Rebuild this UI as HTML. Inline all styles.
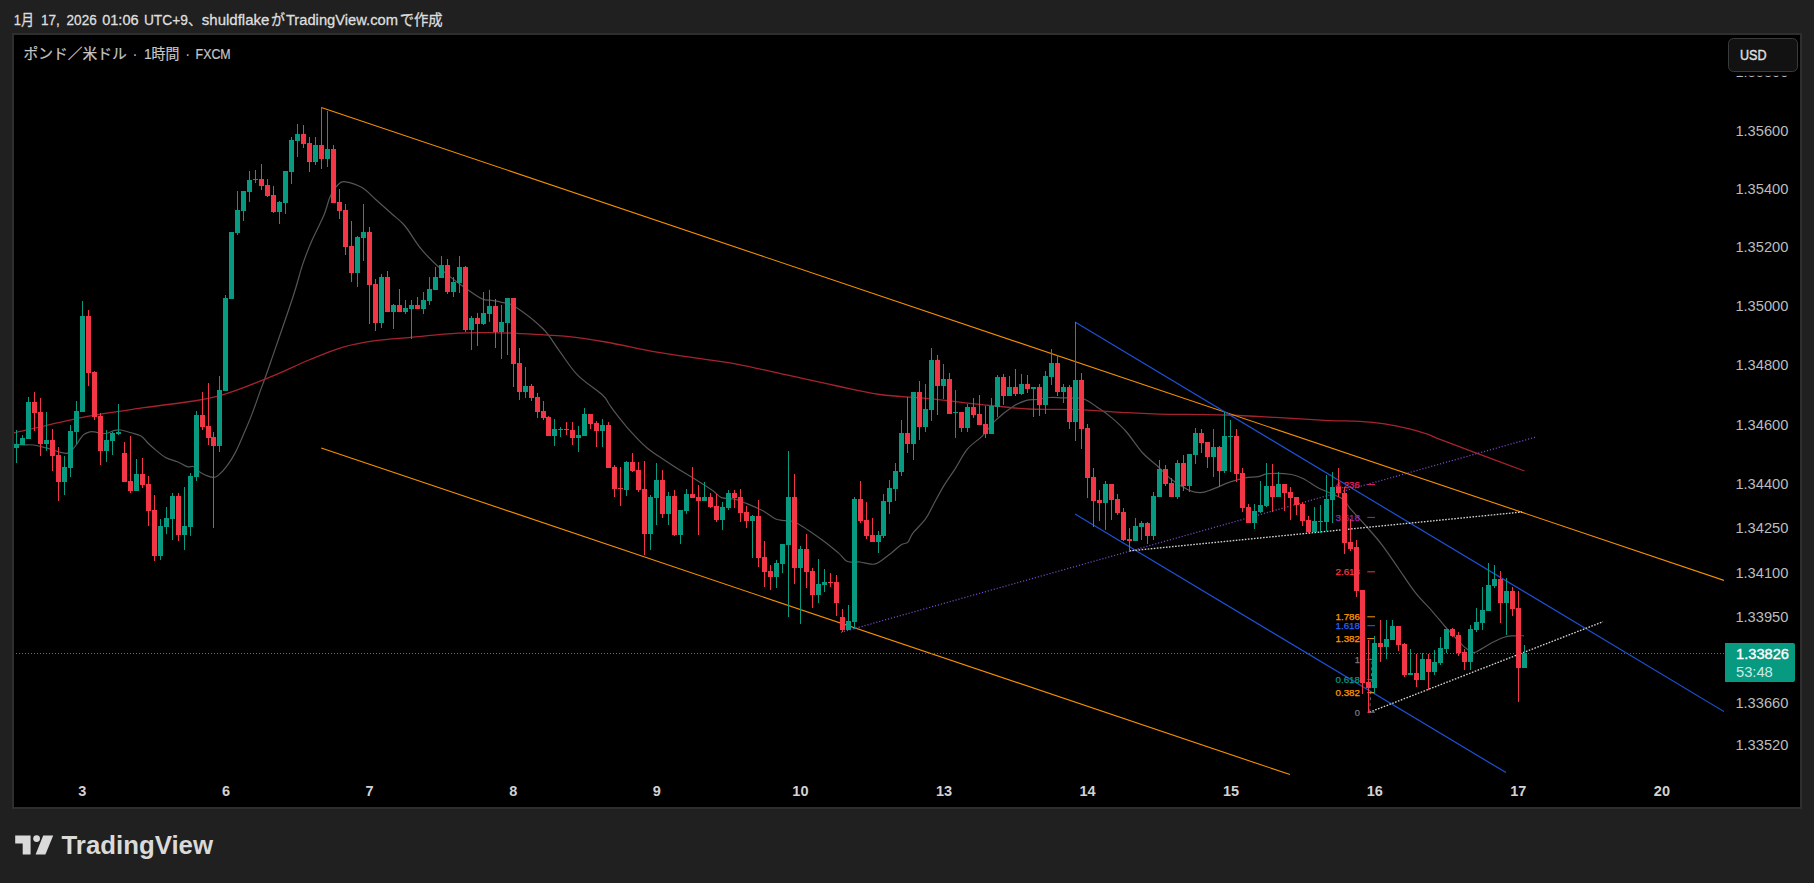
<!DOCTYPE html>
<html lang="ja"><head><meta charset="utf-8"><title>TradingView chart</title>
<style>
html,body{margin:0;padding:0;background:#202020;}
body{width:1814px;height:883px;overflow:hidden;position:relative;font-family:"Liberation Sans","Noto Sans CJK JP",sans-serif;}
#box{position:absolute;left:12px;top:33px;width:1786px;height:772px;border:2px solid #2e2e2e;background:#000;}
svg{position:absolute;left:0;top:0;}
svg text{font-family:"Liberation Sans","Noto Sans CJK JP",sans-serif;}
</style></head><body>
<div id="box"></div>
<svg width="1814" height="883" viewBox="0 0 1814 883">
<defs><clipPath id="topclip"><rect x="1730" y="75.8" width="70" height="1.2"/></clipPath></defs>
<defs><clipPath id="plot"><rect x="14" y="35" width="1710" height="772"/></clipPath></defs>
<g clip-path="url(#plot)">
<path fill="none" stroke="#565656" stroke-width="1.2" d="M14.0 444.3C15.6 444.4 20.4 444.7 23.6 444.8C26.9 444.9 29.9 444.5 33.5 445.0C37.1 445.5 41.4 446.7 45.0 447.6C48.6 448.5 52.0 449.7 55.0 450.6C58.0 451.5 61.1 452.5 63.3 452.9C65.5 453.3 66.3 453.9 68.2 452.9C70.1 451.9 72.3 449.8 74.8 446.8C77.3 443.9 80.6 437.7 83.1 435.2C85.6 432.7 87.8 432.4 89.7 431.9C91.6 431.3 92.8 431.6 94.7 431.9C96.6 432.2 99.1 433.4 101.3 433.6C103.5 433.8 105.7 433.6 107.9 433.0C110.1 432.4 112.3 430.8 114.5 430.3C116.7 429.8 118.3 429.6 121.1 430.0C123.8 430.4 127.7 431.8 131.0 432.8C134.3 433.8 138.2 434.4 141.0 436.0C143.8 437.6 145.1 440.3 147.6 442.7C150.1 445.1 152.9 447.6 155.9 450.1C158.9 452.6 162.2 455.7 165.8 457.6C169.4 459.5 173.8 460.2 177.4 461.7C181.0 463.2 184.6 465.9 187.3 466.7C190.1 467.5 191.7 465.7 193.9 466.7C196.1 467.7 197.3 470.7 200.5 472.5C203.7 474.3 209.9 477.0 212.9 477.4C215.9 477.8 216.3 476.8 218.7 474.9C221.0 473.0 224.2 469.5 227.0 465.8C229.8 462.1 232.6 457.8 235.3 452.6C238.1 447.4 240.8 440.7 243.5 434.4C246.2 428.1 249.0 421.8 251.8 414.6C254.6 407.4 257.9 397.5 260.1 391.4C262.3 385.3 263.2 383.3 265.0 378.2C266.8 373.1 266.4 374.4 271.0 361.0C275.6 347.6 287.4 313.8 292.7 297.7C298.0 281.6 299.4 274.1 302.6 264.6C305.8 255.2 308.1 249.3 311.7 241.0C315.3 232.7 320.9 222.3 324.0 215.0C327.1 207.7 327.7 202.0 330.0 197.0C332.3 192.0 335.4 187.3 338.0 184.8C340.6 182.3 341.6 181.3 345.6 181.8C349.6 182.3 357.0 184.7 362.0 187.6C367.0 190.5 370.4 194.8 375.4 199.2C380.4 203.6 387.1 209.5 392.0 214.0C396.9 218.5 400.1 220.1 405.0 226.0C409.9 231.9 415.6 242.4 421.7 249.7C427.8 257.0 434.9 263.7 441.5 269.6C448.1 275.5 454.8 280.5 461.4 285.3C468.0 290.1 476.4 296.0 481.2 298.5C486.0 301.0 486.6 299.6 490.0 300.2C493.4 300.8 497.5 301.2 501.6 302.3C505.7 303.4 507.9 302.1 514.8 306.5C521.7 310.9 535.5 321.4 543.0 328.8C550.5 336.2 553.7 343.4 559.5 351.1C565.3 358.8 570.4 367.8 577.6 375.1C584.8 382.4 597.3 390.2 602.5 395.0C607.7 399.8 606.8 401.0 609.0 404.0C611.2 407.0 612.1 408.6 615.7 413.2C619.3 417.8 625.4 425.6 630.6 431.4C635.8 437.2 641.6 443.3 647.1 448.0C652.6 452.7 658.1 455.8 663.6 459.5C669.1 463.2 674.7 466.9 680.2 470.3C685.7 473.8 691.2 476.8 696.7 480.2C702.2 483.6 709.2 488.1 713.3 491.0C717.4 493.9 717.9 496.2 721.5 497.6C725.1 499.0 730.6 498.2 734.7 499.2C738.8 500.2 741.6 501.5 746.3 503.4C751.0 505.3 758.0 508.2 762.9 510.8C767.8 513.4 771.8 517.4 775.6 519.0C779.4 520.6 781.9 520.0 785.5 520.7C789.1 521.4 791.0 520.0 797.1 523.2C803.2 526.4 815.0 534.8 821.9 539.7C828.8 544.7 834.1 549.3 838.4 552.9C842.7 556.5 843.9 560.0 847.5 561.5C851.1 563.0 856.0 561.5 860.0 562.0C864.0 562.5 868.5 564.1 871.5 564.2C874.5 564.3 874.8 564.7 878.1 562.8C881.4 560.9 887.5 555.9 891.4 552.9C895.3 549.9 898.5 546.5 901.3 544.7C904.0 542.9 906.0 544.1 907.9 542.2C909.8 540.3 910.0 536.9 912.9 533.1C915.8 529.3 921.9 524.0 925.4 519.2C928.9 514.4 930.6 509.8 933.6 504.3C936.6 498.8 940.0 492.0 943.6 486.1C947.2 480.2 951.1 475.0 955.1 468.8C959.1 462.6 962.9 454.4 967.5 448.9C972.1 443.4 977.8 440.6 982.5 435.8C987.2 431.0 990.8 424.9 995.8 420.1C1000.8 415.3 1007.2 410.2 1012.3 406.9C1017.4 403.6 1022.3 401.5 1026.4 400.3C1030.5 399.1 1033.1 400.0 1037.1 399.5C1041.1 399.0 1046.2 397.8 1050.3 397.5C1054.4 397.2 1057.8 397.7 1061.9 397.8C1066.0 397.9 1071.2 397.8 1075.1 398.1C1079.0 398.4 1081.0 397.7 1085.1 399.5C1089.2 401.3 1095.5 406.0 1099.9 409.0C1104.3 412.0 1107.1 413.9 1111.5 417.6C1115.9 421.4 1120.9 425.6 1126.1 431.5C1131.3 437.4 1137.5 447.2 1142.7 453.0C1148.0 458.8 1152.6 461.6 1157.6 466.2C1162.6 470.8 1167.3 476.3 1172.5 480.3C1177.7 484.3 1184.3 488.1 1189.0 490.2C1193.7 492.3 1196.8 492.8 1200.6 492.7C1204.4 492.6 1207.1 491.2 1212.1 489.4C1217.0 487.6 1224.8 483.8 1230.3 481.9C1235.8 480.0 1240.5 478.7 1245.2 477.8C1249.9 476.9 1254.5 477.3 1258.4 476.6C1262.3 475.9 1262.9 474.1 1268.4 473.7C1273.9 473.3 1285.4 473.5 1291.5 474.5C1297.6 475.5 1300.4 477.3 1304.8 479.5C1309.2 481.7 1313.6 485.4 1318.0 487.7C1322.4 490.0 1326.8 491.4 1331.2 493.5C1335.6 495.6 1341.3 497.7 1344.4 500.1C1347.5 502.5 1346.0 503.5 1349.6 507.8C1353.2 512.1 1360.5 519.7 1366.0 526.0C1371.5 532.3 1377.2 538.5 1382.7 545.8C1388.2 553.0 1393.7 561.6 1399.2 569.5C1404.7 577.4 1410.3 586.2 1415.8 593.2C1421.3 600.2 1427.3 605.7 1432.3 611.3C1437.2 616.9 1441.4 622.3 1445.5 627.0C1449.6 631.7 1453.8 636.0 1457.1 639.5C1460.4 643.0 1462.7 645.5 1465.4 647.7C1468.2 649.9 1470.8 652.6 1473.6 652.7C1476.3 652.9 1478.9 650.2 1481.9 648.6C1484.9 647.0 1488.0 644.7 1491.8 642.8C1495.6 640.9 1501.1 638.2 1505.0 637.0C1508.9 635.8 1511.8 636.0 1515.0 635.8C1518.2 635.6 1522.5 635.8 1524.0 635.8"/>
<path fill="none" stroke="#a5232f" stroke-width="1.3" d="M14.0 433.0C25.4 430.4 60.9 421.5 82.6 417.3C104.3 413.1 125.4 410.4 144.0 407.7C162.6 405.0 181.5 403.0 194.0 401.0C206.5 399.0 210.8 398.0 219.0 395.8C227.2 393.6 233.9 391.2 243.5 387.6C253.1 384.0 265.7 378.9 276.6 374.3C287.5 369.7 298.1 364.5 309.0 360.0C319.9 355.5 331.2 350.5 342.3 347.3C353.4 344.1 363.9 342.4 375.4 340.7C386.8 339.0 397.2 338.6 411.0 337.4C424.8 336.1 444.8 334.0 458.0 333.2C471.2 332.4 480.8 332.6 490.0 332.6C499.2 332.6 501.1 332.6 513.5 333.2C525.9 333.8 549.0 334.7 564.4 336.2C579.8 337.7 590.6 339.4 605.8 342.0C621.0 344.6 638.9 349.0 655.4 351.9C671.9 354.8 691.2 357.3 705.0 359.4C718.8 361.5 723.8 361.6 738.0 364.3C752.2 367.0 773.8 372.1 790.0 375.6C806.2 379.1 820.0 382.4 835.0 385.5C850.0 388.6 864.2 392.3 880.0 394.5C895.8 396.7 913.1 397.0 929.6 398.6C946.1 400.2 962.7 402.7 979.2 404.4C995.7 406.1 1012.3 408.1 1028.8 409.0C1045.3 409.9 1061.9 409.1 1078.4 409.7C1094.9 410.3 1114.5 412.0 1128.0 412.7C1141.5 413.4 1143.0 413.7 1159.2 414.1C1175.4 414.5 1206.1 414.4 1225.4 415.0C1244.7 415.6 1258.5 416.5 1275.0 417.4C1291.5 418.3 1310.4 419.6 1324.6 420.3C1338.8 421.0 1350.0 420.7 1360.0 421.3C1370.0 421.9 1376.5 422.6 1384.8 423.8C1393.1 425.1 1402.7 427.2 1409.6 428.8C1416.5 430.4 1420.5 431.8 1426.0 433.7C1431.5 435.6 1434.4 437.2 1442.7 440.4C1451.0 443.6 1462.2 447.7 1475.8 452.8C1489.4 457.9 1516.4 468.0 1524.5 471.0"/>
<line x1="321.3" y1="107.4" x2="1724.0" y2="580.4" stroke="#f59000" stroke-width="1.1" />
<line x1="321.2" y1="447.9" x2="1290.0" y2="774.6" stroke="#f59000" stroke-width="1.1" />
<line x1="1075.0" y1="322.0" x2="1724.0" y2="711.6" stroke="#1d50d4" stroke-width="1.2" />
<line x1="1075.0" y1="514.0" x2="1506.0" y2="772.6" stroke="#1d50d4" stroke-width="1.2" />
<line x1="841.0" y1="632.3" x2="1536.0" y2="437.0" stroke="#7a4acc" stroke-width="1.25" stroke-dasharray="1.15 1.9"/>
<line x1="1129.5" y1="550.9" x2="1522.0" y2="512.0" stroke="#d2d2d2" stroke-width="1.35" stroke-dasharray="1.6 1.45"/>
<line x1="1369.5" y1="712.2" x2="1603.0" y2="621.7" stroke="#d2d2d2" stroke-width="1.35" stroke-dasharray="1.6 1.45"/>
<line x1="1369.7" y1="712.2" x2="1372.2" y2="659.3" stroke="#6a6a6a" stroke-width="1" stroke-dasharray="3 3"/>
<text x="1360" y="487.9" text-anchor="end" font-size="9.3" fill="#e91e63" stroke="#e91e63" stroke-width="0.25" textLength="24.5" lengthAdjust="spacingAndGlyphs">4.236</text>
<line x1="1367.3" y1="484.6" x2="1375.0" y2="484.6" stroke="#e91e63" stroke-width="1" />
<text x="1360" y="520.7" text-anchor="end" font-size="9.3" fill="#9c27b0" stroke="#9c27b0" stroke-width="0.25" textLength="24.5" lengthAdjust="spacingAndGlyphs">3.618</text>
<line x1="1367.3" y1="517.4" x2="1375.0" y2="517.4" stroke="#9c27b0" stroke-width="1" />
<text x="1360" y="575.1" text-anchor="end" font-size="9.3" fill="#f23645" stroke="#f23645" stroke-width="0.25" textLength="24.5" lengthAdjust="spacingAndGlyphs">2.618</text>
<line x1="1367.3" y1="571.8" x2="1375.0" y2="571.8" stroke="#f23645" stroke-width="1" />
<text x="1360" y="620.1" text-anchor="end" font-size="9.3" fill="#ff9800" stroke="#ff9800" stroke-width="0.25" textLength="24.5" lengthAdjust="spacingAndGlyphs">1.786</text>
<line x1="1367.3" y1="616.8" x2="1375.0" y2="616.8" stroke="#ff9800" stroke-width="1" />
<text x="1360" y="629.0" text-anchor="end" font-size="9.3" fill="#2962ff" stroke="#2962ff" stroke-width="0.25" textLength="24.5" lengthAdjust="spacingAndGlyphs">1.618</text>
<line x1="1367.3" y1="625.7" x2="1375.0" y2="625.7" stroke="#2962ff" stroke-width="1" />
<text x="1360" y="641.9" text-anchor="end" font-size="9.3" fill="#ff9800" stroke="#ff9800" stroke-width="0.25" textLength="24.5" lengthAdjust="spacingAndGlyphs">1.382</text>
<line x1="1367.3" y1="638.6" x2="1375.0" y2="638.6" stroke="#ff9800" stroke-width="1" />
<text x="1360" y="662.6" text-anchor="end" font-size="9.3" fill="#787b86" stroke="#787b86" stroke-width="0.25" >1</text>
<line x1="1367.3" y1="659.3" x2="1375.0" y2="659.3" stroke="#787b86" stroke-width="1" />
<text x="1360" y="682.9" text-anchor="end" font-size="9.3" fill="#089981" stroke="#089981" stroke-width="0.25" textLength="24.5" lengthAdjust="spacingAndGlyphs">0.618</text>
<line x1="1367.3" y1="679.6" x2="1375.0" y2="679.6" stroke="#089981" stroke-width="1" />
<text x="1360" y="696.0" text-anchor="end" font-size="9.3" fill="#ff9800" stroke="#ff9800" stroke-width="0.25" textLength="24.5" lengthAdjust="spacingAndGlyphs">0.382</text>
<line x1="1367.3" y1="692.7" x2="1375.0" y2="692.7" stroke="#ff9800" stroke-width="1" />
<text x="1360" y="715.5" text-anchor="end" font-size="9.3" fill="#787b86" stroke="#787b86" stroke-width="0.25" >0</text>
<line x1="1367.3" y1="712.2" x2="1375.0" y2="712.2" stroke="#787b86" stroke-width="1" />
<rect x="16" y="430" width="1" height="33" fill="#089981"/>
<rect x="14" y="444" width="5" height="4" fill="#089981"/>
<rect x="22" y="435" width="1" height="10" fill="#089981"/>
<rect x="20" y="438" width="5" height="7" fill="#089981"/>
<rect x="28" y="397" width="1" height="42" fill="#089981"/>
<rect x="26" y="402" width="5" height="37" fill="#089981"/>
<rect x="34" y="392" width="1" height="39" fill="#f23645"/>
<rect x="32" y="402" width="5" height="11" fill="#f23645"/>
<rect x="40" y="398" width="1" height="58" fill="#f23645"/>
<rect x="38" y="412" width="5" height="32" fill="#f23645"/>
<rect x="46" y="412" width="1" height="39" fill="#089981"/>
<rect x="44" y="440" width="5" height="4" fill="#089981"/>
<rect x="52" y="429" width="1" height="42" fill="#f23645"/>
<rect x="50" y="440" width="5" height="16" fill="#f23645"/>
<rect x="58" y="447" width="1" height="54" fill="#f23645"/>
<rect x="56" y="455" width="5" height="27" fill="#f23645"/>
<rect x="64" y="456" width="1" height="39" fill="#089981"/>
<rect x="62" y="467" width="5" height="15" fill="#089981"/>
<rect x="70" y="425" width="1" height="52" fill="#089981"/>
<rect x="68" y="431" width="5" height="37" fill="#089981"/>
<rect x="76" y="401" width="1" height="43" fill="#089981"/>
<rect x="74" y="411" width="5" height="21" fill="#089981"/>
<rect x="82" y="301" width="1" height="111" fill="#089981"/>
<rect x="80" y="316" width="5" height="96" fill="#089981"/>
<rect x="88" y="310" width="1" height="76" fill="#f23645"/>
<rect x="86" y="316" width="5" height="57" fill="#f23645"/>
<rect x="94" y="371" width="1" height="49" fill="#f23645"/>
<rect x="92" y="372" width="5" height="45" fill="#f23645"/>
<rect x="100" y="413" width="1" height="52" fill="#f23645"/>
<rect x="98" y="416" width="5" height="35" fill="#f23645"/>
<rect x="106" y="430" width="1" height="32" fill="#089981"/>
<rect x="104" y="440" width="5" height="11" fill="#089981"/>
<rect x="112" y="432" width="1" height="23" fill="#089981"/>
<rect x="110" y="433" width="5" height="8" fill="#089981"/>
<rect x="118" y="404" width="1" height="31" fill="#089981"/>
<rect x="116" y="432" width="5" height="2" fill="#089981"/>
<rect x="124" y="442" width="1" height="40" fill="#f23645"/>
<rect x="122" y="453" width="5" height="29" fill="#f23645"/>
<rect x="130" y="436" width="1" height="57" fill="#f23645"/>
<rect x="128" y="481" width="5" height="10" fill="#f23645"/>
<rect x="136" y="459" width="1" height="32" fill="#089981"/>
<rect x="134" y="474" width="5" height="17" fill="#089981"/>
<rect x="142" y="458" width="1" height="30" fill="#f23645"/>
<rect x="140" y="474" width="5" height="11" fill="#f23645"/>
<rect x="148" y="476" width="1" height="50" fill="#f23645"/>
<rect x="146" y="484" width="5" height="27" fill="#f23645"/>
<rect x="154" y="495" width="1" height="66" fill="#f23645"/>
<rect x="152" y="510" width="5" height="46" fill="#f23645"/>
<rect x="160" y="519" width="1" height="41" fill="#089981"/>
<rect x="158" y="526" width="5" height="30" fill="#089981"/>
<rect x="166" y="507" width="1" height="27" fill="#089981"/>
<rect x="164" y="518" width="5" height="9" fill="#089981"/>
<rect x="172" y="493" width="1" height="47" fill="#089981"/>
<rect x="170" y="496" width="5" height="23" fill="#089981"/>
<rect x="178" y="493" width="1" height="48" fill="#f23645"/>
<rect x="176" y="496" width="5" height="39" fill="#f23645"/>
<rect x="184" y="487" width="1" height="63" fill="#089981"/>
<rect x="182" y="526" width="5" height="9" fill="#089981"/>
<rect x="190" y="473" width="1" height="63" fill="#089981"/>
<rect x="188" y="476" width="5" height="51" fill="#089981"/>
<rect x="196" y="411" width="1" height="70" fill="#089981"/>
<rect x="194" y="415" width="5" height="62" fill="#089981"/>
<rect x="202" y="392" width="1" height="38" fill="#f23645"/>
<rect x="200" y="415" width="5" height="12" fill="#f23645"/>
<rect x="208" y="383" width="1" height="62" fill="#f23645"/>
<rect x="206" y="426" width="5" height="12" fill="#f23645"/>
<rect x="213" y="432" width="1" height="96" fill="#f23645"/>
<rect x="211" y="437" width="5" height="9" fill="#f23645"/>
<rect x="219" y="376" width="1" height="76" fill="#089981"/>
<rect x="217" y="390" width="5" height="56" fill="#089981"/>
<rect x="225" y="295" width="1" height="96" fill="#089981"/>
<rect x="223" y="298" width="5" height="93" fill="#089981"/>
<rect x="231" y="232" width="1" height="67" fill="#089981"/>
<rect x="229" y="232" width="5" height="67" fill="#089981"/>
<rect x="237" y="191" width="1" height="44" fill="#089981"/>
<rect x="235" y="210" width="5" height="23" fill="#089981"/>
<rect x="243" y="191" width="1" height="30" fill="#089981"/>
<rect x="241" y="191" width="5" height="20" fill="#089981"/>
<rect x="249" y="171" width="1" height="31" fill="#089981"/>
<rect x="247" y="180" width="5" height="12" fill="#089981"/>
<rect x="255" y="170" width="1" height="13" fill="#089981"/>
<rect x="253" y="179" width="5" height="1" fill="#089981"/>
<rect x="261" y="164" width="1" height="26" fill="#f23645"/>
<rect x="259" y="179" width="5" height="7" fill="#f23645"/>
<rect x="267" y="179" width="1" height="18" fill="#f23645"/>
<rect x="265" y="185" width="5" height="11" fill="#f23645"/>
<rect x="273" y="186" width="1" height="27" fill="#f23645"/>
<rect x="271" y="195" width="5" height="17" fill="#f23645"/>
<rect x="279" y="201" width="1" height="23" fill="#089981"/>
<rect x="277" y="202" width="5" height="10" fill="#089981"/>
<rect x="285" y="171" width="1" height="43" fill="#089981"/>
<rect x="283" y="171" width="5" height="32" fill="#089981"/>
<rect x="291" y="137" width="1" height="47" fill="#089981"/>
<rect x="289" y="140" width="5" height="32" fill="#089981"/>
<rect x="297" y="124" width="1" height="33" fill="#089981"/>
<rect x="295" y="134" width="5" height="7" fill="#089981"/>
<rect x="303" y="125" width="1" height="23" fill="#f23645"/>
<rect x="301" y="134" width="5" height="10" fill="#f23645"/>
<rect x="309" y="137" width="1" height="35" fill="#f23645"/>
<rect x="307" y="143" width="5" height="19" fill="#f23645"/>
<rect x="315" y="137" width="1" height="28" fill="#089981"/>
<rect x="313" y="145" width="5" height="17" fill="#089981"/>
<rect x="321" y="107" width="1" height="62" fill="#f23645"/>
<rect x="319" y="145" width="5" height="14" fill="#f23645"/>
<rect x="327" y="111" width="1" height="56" fill="#089981"/>
<rect x="325" y="149" width="5" height="10" fill="#089981"/>
<rect x="333" y="145" width="1" height="58" fill="#f23645"/>
<rect x="331" y="149" width="5" height="54" fill="#f23645"/>
<rect x="339" y="189" width="1" height="30" fill="#f23645"/>
<rect x="337" y="202" width="5" height="9" fill="#f23645"/>
<rect x="345" y="204" width="1" height="51" fill="#f23645"/>
<rect x="343" y="210" width="5" height="37" fill="#f23645"/>
<rect x="351" y="221" width="1" height="61" fill="#f23645"/>
<rect x="349" y="246" width="5" height="27" fill="#f23645"/>
<rect x="357" y="236" width="1" height="51" fill="#089981"/>
<rect x="355" y="237" width="5" height="36" fill="#089981"/>
<rect x="363" y="204" width="1" height="57" fill="#089981"/>
<rect x="361" y="232" width="5" height="6" fill="#089981"/>
<rect x="369" y="227" width="1" height="97" fill="#f23645"/>
<rect x="367" y="232" width="5" height="53" fill="#f23645"/>
<rect x="375" y="279" width="1" height="52" fill="#f23645"/>
<rect x="373" y="284" width="5" height="39" fill="#f23645"/>
<rect x="381" y="274" width="1" height="54" fill="#089981"/>
<rect x="379" y="277" width="5" height="46" fill="#089981"/>
<rect x="387" y="271" width="1" height="41" fill="#f23645"/>
<rect x="385" y="277" width="5" height="35" fill="#f23645"/>
<rect x="393" y="304" width="1" height="25" fill="#089981"/>
<rect x="391" y="305" width="5" height="7" fill="#089981"/>
<rect x="399" y="289" width="1" height="23" fill="#f23645"/>
<rect x="397" y="305" width="5" height="7" fill="#f23645"/>
<rect x="405" y="300" width="1" height="14" fill="#089981"/>
<rect x="403" y="308" width="5" height="4" fill="#089981"/>
<rect x="411" y="300" width="1" height="39" fill="#089981"/>
<rect x="409" y="305" width="5" height="4" fill="#089981"/>
<rect x="417" y="297" width="1" height="12" fill="#f23645"/>
<rect x="415" y="305" width="5" height="4" fill="#f23645"/>
<rect x="423" y="292" width="1" height="22" fill="#089981"/>
<rect x="421" y="300" width="5" height="9" fill="#089981"/>
<rect x="429" y="277" width="1" height="28" fill="#089981"/>
<rect x="427" y="289" width="5" height="12" fill="#089981"/>
<rect x="435" y="267" width="1" height="23" fill="#089981"/>
<rect x="433" y="277" width="5" height="13" fill="#089981"/>
<rect x="441" y="256" width="1" height="22" fill="#089981"/>
<rect x="439" y="265" width="5" height="13" fill="#089981"/>
<rect x="447" y="259" width="1" height="35" fill="#f23645"/>
<rect x="445" y="265" width="5" height="27" fill="#f23645"/>
<rect x="453" y="277" width="1" height="20" fill="#089981"/>
<rect x="451" y="282" width="5" height="10" fill="#089981"/>
<rect x="459" y="256" width="1" height="37" fill="#089981"/>
<rect x="457" y="267" width="5" height="16" fill="#089981"/>
<rect x="465" y="266" width="1" height="66" fill="#f23645"/>
<rect x="463" y="267" width="5" height="63" fill="#f23645"/>
<rect x="471" y="316" width="1" height="34" fill="#089981"/>
<rect x="469" y="318" width="5" height="12" fill="#089981"/>
<rect x="477" y="313" width="1" height="33" fill="#f23645"/>
<rect x="475" y="318" width="5" height="6" fill="#f23645"/>
<rect x="483" y="292" width="1" height="33" fill="#089981"/>
<rect x="481" y="313" width="5" height="11" fill="#089981"/>
<rect x="489" y="290" width="1" height="32" fill="#089981"/>
<rect x="487" y="306" width="5" height="8" fill="#089981"/>
<rect x="495" y="299" width="1" height="49" fill="#f23645"/>
<rect x="493" y="306" width="5" height="26" fill="#f23645"/>
<rect x="501" y="305" width="1" height="54" fill="#089981"/>
<rect x="499" y="322" width="5" height="10" fill="#089981"/>
<rect x="507" y="298" width="1" height="57" fill="#089981"/>
<rect x="505" y="298" width="5" height="25" fill="#089981"/>
<rect x="513" y="298" width="1" height="89" fill="#f23645"/>
<rect x="511" y="298" width="5" height="66" fill="#f23645"/>
<rect x="519" y="348" width="1" height="52" fill="#f23645"/>
<rect x="517" y="363" width="5" height="29" fill="#f23645"/>
<rect x="525" y="367" width="1" height="31" fill="#089981"/>
<rect x="523" y="386" width="5" height="6" fill="#089981"/>
<rect x="531" y="384" width="1" height="17" fill="#f23645"/>
<rect x="529" y="386" width="5" height="12" fill="#f23645"/>
<rect x="537" y="393" width="1" height="25" fill="#f23645"/>
<rect x="535" y="397" width="5" height="15" fill="#f23645"/>
<rect x="543" y="401" width="1" height="19" fill="#f23645"/>
<rect x="541" y="411" width="5" height="7" fill="#f23645"/>
<rect x="548" y="416" width="1" height="20" fill="#f23645"/>
<rect x="546" y="417" width="5" height="19" fill="#f23645"/>
<rect x="554" y="419" width="1" height="27" fill="#089981"/>
<rect x="552" y="429" width="5" height="7" fill="#089981"/>
<rect x="560" y="427" width="1" height="10" fill="#089981"/>
<rect x="558" y="429" width="5" height="1" fill="#089981"/>
<rect x="566" y="422" width="1" height="13" fill="#f23645"/>
<rect x="564" y="429" width="5" height="1" fill="#f23645"/>
<rect x="572" y="422" width="1" height="23" fill="#f23645"/>
<rect x="570" y="430" width="5" height="8" fill="#f23645"/>
<rect x="578" y="426" width="1" height="26" fill="#089981"/>
<rect x="576" y="435" width="5" height="3" fill="#089981"/>
<rect x="584" y="408" width="1" height="28" fill="#089981"/>
<rect x="582" y="414" width="5" height="22" fill="#089981"/>
<rect x="590" y="414" width="1" height="15" fill="#f23645"/>
<rect x="588" y="414" width="5" height="10" fill="#f23645"/>
<rect x="596" y="421" width="1" height="26" fill="#f23645"/>
<rect x="594" y="423" width="5" height="8" fill="#f23645"/>
<rect x="602" y="419" width="1" height="28" fill="#089981"/>
<rect x="600" y="425" width="5" height="6" fill="#089981"/>
<rect x="608" y="422" width="1" height="46" fill="#f23645"/>
<rect x="606" y="425" width="5" height="43" fill="#f23645"/>
<rect x="614" y="465" width="1" height="32" fill="#f23645"/>
<rect x="612" y="467" width="5" height="22" fill="#f23645"/>
<rect x="620" y="467" width="1" height="39" fill="#f23645"/>
<rect x="618" y="488" width="5" height="1" fill="#f23645"/>
<rect x="626" y="461" width="1" height="35" fill="#089981"/>
<rect x="624" y="462" width="5" height="28" fill="#089981"/>
<rect x="632" y="453" width="1" height="19" fill="#f23645"/>
<rect x="630" y="462" width="5" height="9" fill="#f23645"/>
<rect x="638" y="462" width="1" height="30" fill="#f23645"/>
<rect x="636" y="470" width="5" height="20" fill="#f23645"/>
<rect x="644" y="461" width="1" height="94" fill="#f23645"/>
<rect x="642" y="489" width="5" height="45" fill="#f23645"/>
<rect x="650" y="495" width="1" height="55" fill="#089981"/>
<rect x="648" y="497" width="5" height="37" fill="#089981"/>
<rect x="656" y="463" width="1" height="62" fill="#089981"/>
<rect x="654" y="480" width="5" height="18" fill="#089981"/>
<rect x="662" y="470" width="1" height="48" fill="#f23645"/>
<rect x="660" y="480" width="5" height="34" fill="#f23645"/>
<rect x="668" y="492" width="1" height="33" fill="#089981"/>
<rect x="666" y="496" width="5" height="18" fill="#089981"/>
<rect x="674" y="490" width="1" height="46" fill="#f23645"/>
<rect x="672" y="496" width="5" height="39" fill="#f23645"/>
<rect x="680" y="510" width="1" height="34" fill="#089981"/>
<rect x="678" y="510" width="5" height="25" fill="#089981"/>
<rect x="686" y="489" width="1" height="25" fill="#089981"/>
<rect x="684" y="494" width="5" height="17" fill="#089981"/>
<rect x="692" y="467" width="1" height="31" fill="#f23645"/>
<rect x="690" y="494" width="5" height="4" fill="#f23645"/>
<rect x="698" y="485" width="1" height="50" fill="#f23645"/>
<rect x="696" y="497" width="5" height="4" fill="#f23645"/>
<rect x="704" y="482" width="1" height="19" fill="#089981"/>
<rect x="702" y="497" width="5" height="4" fill="#089981"/>
<rect x="710" y="493" width="1" height="15" fill="#f23645"/>
<rect x="708" y="497" width="5" height="10" fill="#f23645"/>
<rect x="716" y="494" width="1" height="28" fill="#f23645"/>
<rect x="714" y="506" width="5" height="14" fill="#f23645"/>
<rect x="722" y="502" width="1" height="28" fill="#089981"/>
<rect x="720" y="507" width="5" height="13" fill="#089981"/>
<rect x="728" y="490" width="1" height="20" fill="#089981"/>
<rect x="726" y="493" width="5" height="15" fill="#089981"/>
<rect x="734" y="490" width="1" height="18" fill="#f23645"/>
<rect x="732" y="493" width="5" height="5" fill="#f23645"/>
<rect x="740" y="489" width="1" height="33" fill="#f23645"/>
<rect x="738" y="497" width="5" height="16" fill="#f23645"/>
<rect x="746" y="506" width="1" height="22" fill="#f23645"/>
<rect x="744" y="512" width="5" height="9" fill="#f23645"/>
<rect x="752" y="515" width="1" height="43" fill="#089981"/>
<rect x="750" y="516" width="5" height="5" fill="#089981"/>
<rect x="758" y="500" width="1" height="67" fill="#f23645"/>
<rect x="756" y="516" width="5" height="42" fill="#f23645"/>
<rect x="764" y="541" width="1" height="46" fill="#f23645"/>
<rect x="762" y="557" width="5" height="15" fill="#f23645"/>
<rect x="770" y="565" width="1" height="25" fill="#f23645"/>
<rect x="768" y="571" width="5" height="6" fill="#f23645"/>
<rect x="776" y="560" width="1" height="28" fill="#089981"/>
<rect x="774" y="563" width="5" height="14" fill="#089981"/>
<rect x="782" y="544" width="1" height="29" fill="#089981"/>
<rect x="780" y="544" width="5" height="20" fill="#089981"/>
<rect x="788" y="451" width="1" height="166" fill="#089981"/>
<rect x="786" y="497" width="5" height="48" fill="#089981"/>
<rect x="794" y="474" width="1" height="110" fill="#f23645"/>
<rect x="792" y="497" width="5" height="71" fill="#f23645"/>
<rect x="800" y="546" width="1" height="78" fill="#089981"/>
<rect x="798" y="549" width="5" height="19" fill="#089981"/>
<rect x="806" y="534" width="1" height="54" fill="#f23645"/>
<rect x="804" y="549" width="5" height="23" fill="#f23645"/>
<rect x="812" y="568" width="1" height="40" fill="#f23645"/>
<rect x="810" y="571" width="5" height="24" fill="#f23645"/>
<rect x="818" y="559" width="1" height="44" fill="#089981"/>
<rect x="816" y="584" width="5" height="11" fill="#089981"/>
<rect x="824" y="569" width="1" height="23" fill="#089981"/>
<rect x="822" y="582" width="5" height="3" fill="#089981"/>
<rect x="830" y="573" width="1" height="14" fill="#f23645"/>
<rect x="828" y="582" width="5" height="1" fill="#f23645"/>
<rect x="836" y="575" width="1" height="41" fill="#f23645"/>
<rect x="834" y="582" width="5" height="21" fill="#f23645"/>
<rect x="842" y="609" width="1" height="23" fill="#f23645"/>
<rect x="840" y="617" width="5" height="13" fill="#f23645"/>
<rect x="848" y="605" width="1" height="25" fill="#089981"/>
<rect x="846" y="621" width="5" height="9" fill="#089981"/>
<rect x="854" y="497" width="1" height="132" fill="#089981"/>
<rect x="852" y="499" width="5" height="123" fill="#089981"/>
<rect x="860" y="481" width="1" height="42" fill="#f23645"/>
<rect x="858" y="499" width="5" height="22" fill="#f23645"/>
<rect x="866" y="502" width="1" height="37" fill="#f23645"/>
<rect x="864" y="520" width="5" height="16" fill="#f23645"/>
<rect x="872" y="518" width="1" height="24" fill="#f23645"/>
<rect x="870" y="535" width="5" height="7" fill="#f23645"/>
<rect x="878" y="531" width="1" height="22" fill="#089981"/>
<rect x="876" y="535" width="5" height="7" fill="#089981"/>
<rect x="883" y="494" width="1" height="44" fill="#089981"/>
<rect x="881" y="501" width="5" height="35" fill="#089981"/>
<rect x="889" y="480" width="1" height="34" fill="#089981"/>
<rect x="887" y="488" width="5" height="14" fill="#089981"/>
<rect x="895" y="463" width="1" height="38" fill="#089981"/>
<rect x="893" y="471" width="5" height="18" fill="#089981"/>
<rect x="901" y="420" width="1" height="56" fill="#089981"/>
<rect x="899" y="433" width="5" height="39" fill="#089981"/>
<rect x="907" y="397" width="1" height="56" fill="#f23645"/>
<rect x="905" y="433" width="5" height="11" fill="#f23645"/>
<rect x="913" y="392" width="1" height="68" fill="#089981"/>
<rect x="911" y="392" width="5" height="52" fill="#089981"/>
<rect x="919" y="381" width="1" height="59" fill="#f23645"/>
<rect x="917" y="392" width="5" height="35" fill="#f23645"/>
<rect x="925" y="384" width="1" height="48" fill="#089981"/>
<rect x="923" y="409" width="5" height="18" fill="#089981"/>
<rect x="931" y="348" width="1" height="73" fill="#089981"/>
<rect x="929" y="360" width="5" height="50" fill="#089981"/>
<rect x="937" y="355" width="1" height="60" fill="#f23645"/>
<rect x="935" y="360" width="5" height="26" fill="#f23645"/>
<rect x="943" y="364" width="1" height="35" fill="#089981"/>
<rect x="941" y="379" width="5" height="7" fill="#089981"/>
<rect x="949" y="373" width="1" height="41" fill="#f23645"/>
<rect x="947" y="379" width="5" height="35" fill="#f23645"/>
<rect x="955" y="390" width="1" height="48" fill="#089981"/>
<rect x="953" y="412" width="5" height="1" fill="#089981"/>
<rect x="961" y="412" width="1" height="20" fill="#f23645"/>
<rect x="959" y="412" width="5" height="16" fill="#f23645"/>
<rect x="967" y="404" width="1" height="28" fill="#089981"/>
<rect x="965" y="407" width="5" height="21" fill="#089981"/>
<rect x="973" y="398" width="1" height="20" fill="#f23645"/>
<rect x="971" y="407" width="5" height="8" fill="#f23645"/>
<rect x="979" y="395" width="1" height="30" fill="#f23645"/>
<rect x="977" y="414" width="5" height="11" fill="#f23645"/>
<rect x="985" y="406" width="1" height="32" fill="#f23645"/>
<rect x="983" y="424" width="5" height="10" fill="#f23645"/>
<rect x="991" y="398" width="1" height="36" fill="#089981"/>
<rect x="989" y="406" width="5" height="28" fill="#089981"/>
<rect x="997" y="375" width="1" height="42" fill="#089981"/>
<rect x="995" y="377" width="5" height="30" fill="#089981"/>
<rect x="1003" y="374" width="1" height="31" fill="#f23645"/>
<rect x="1001" y="377" width="5" height="19" fill="#f23645"/>
<rect x="1009" y="376" width="1" height="20" fill="#089981"/>
<rect x="1007" y="387" width="5" height="9" fill="#089981"/>
<rect x="1015" y="369" width="1" height="27" fill="#f23645"/>
<rect x="1013" y="387" width="5" height="7" fill="#f23645"/>
<rect x="1021" y="374" width="1" height="21" fill="#089981"/>
<rect x="1019" y="384" width="5" height="10" fill="#089981"/>
<rect x="1027" y="375" width="1" height="18" fill="#f23645"/>
<rect x="1025" y="384" width="5" height="5" fill="#f23645"/>
<rect x="1033" y="387" width="1" height="30" fill="#089981"/>
<rect x="1031" y="387" width="5" height="2" fill="#089981"/>
<rect x="1039" y="384" width="1" height="32" fill="#f23645"/>
<rect x="1037" y="387" width="5" height="18" fill="#f23645"/>
<rect x="1045" y="371" width="1" height="43" fill="#089981"/>
<rect x="1043" y="376" width="5" height="29" fill="#089981"/>
<rect x="1051" y="349" width="1" height="36" fill="#089981"/>
<rect x="1049" y="363" width="5" height="14" fill="#089981"/>
<rect x="1057" y="355" width="1" height="41" fill="#f23645"/>
<rect x="1055" y="363" width="5" height="29" fill="#f23645"/>
<rect x="1063" y="384" width="1" height="19" fill="#089981"/>
<rect x="1061" y="387" width="5" height="5" fill="#089981"/>
<rect x="1069" y="385" width="1" height="44" fill="#f23645"/>
<rect x="1067" y="387" width="5" height="35" fill="#f23645"/>
<rect x="1075" y="322" width="1" height="119" fill="#089981"/>
<rect x="1073" y="380" width="5" height="42" fill="#089981"/>
<rect x="1081" y="373" width="1" height="76" fill="#f23645"/>
<rect x="1079" y="380" width="5" height="49" fill="#f23645"/>
<rect x="1087" y="424" width="1" height="74" fill="#f23645"/>
<rect x="1085" y="428" width="5" height="50" fill="#f23645"/>
<rect x="1093" y="468" width="1" height="59" fill="#f23645"/>
<rect x="1091" y="477" width="5" height="24" fill="#f23645"/>
<rect x="1099" y="490" width="1" height="31" fill="#f23645"/>
<rect x="1097" y="500" width="5" height="3" fill="#f23645"/>
<rect x="1105" y="481" width="1" height="49" fill="#089981"/>
<rect x="1103" y="484" width="5" height="19" fill="#089981"/>
<rect x="1111" y="484" width="1" height="36" fill="#f23645"/>
<rect x="1109" y="484" width="5" height="16" fill="#f23645"/>
<rect x="1117" y="494" width="1" height="21" fill="#f23645"/>
<rect x="1115" y="499" width="5" height="14" fill="#f23645"/>
<rect x="1123" y="508" width="1" height="33" fill="#f23645"/>
<rect x="1121" y="512" width="5" height="28" fill="#f23645"/>
<rect x="1129" y="528" width="1" height="24" fill="#f23645"/>
<rect x="1127" y="539" width="5" height="2" fill="#f23645"/>
<rect x="1135" y="518" width="1" height="23" fill="#089981"/>
<rect x="1133" y="526" width="5" height="15" fill="#089981"/>
<rect x="1141" y="521" width="1" height="19" fill="#089981"/>
<rect x="1139" y="523" width="5" height="4" fill="#089981"/>
<rect x="1147" y="522" width="1" height="22" fill="#f23645"/>
<rect x="1145" y="523" width="5" height="13" fill="#f23645"/>
<rect x="1153" y="492" width="1" height="48" fill="#089981"/>
<rect x="1151" y="496" width="5" height="40" fill="#089981"/>
<rect x="1159" y="460" width="1" height="37" fill="#089981"/>
<rect x="1157" y="469" width="5" height="28" fill="#089981"/>
<rect x="1165" y="465" width="1" height="21" fill="#f23645"/>
<rect x="1163" y="469" width="5" height="15" fill="#f23645"/>
<rect x="1171" y="478" width="1" height="19" fill="#f23645"/>
<rect x="1169" y="483" width="5" height="14" fill="#f23645"/>
<rect x="1177" y="460" width="1" height="39" fill="#089981"/>
<rect x="1175" y="463" width="5" height="34" fill="#089981"/>
<rect x="1183" y="455" width="1" height="36" fill="#f23645"/>
<rect x="1181" y="463" width="5" height="23" fill="#f23645"/>
<rect x="1189" y="454" width="1" height="38" fill="#089981"/>
<rect x="1187" y="454" width="5" height="32" fill="#089981"/>
<rect x="1195" y="428" width="1" height="36" fill="#089981"/>
<rect x="1193" y="433" width="5" height="22" fill="#089981"/>
<rect x="1201" y="429" width="1" height="24" fill="#f23645"/>
<rect x="1199" y="433" width="5" height="10" fill="#f23645"/>
<rect x="1207" y="442" width="1" height="26" fill="#f23645"/>
<rect x="1205" y="442" width="5" height="15" fill="#f23645"/>
<rect x="1213" y="429" width="1" height="48" fill="#089981"/>
<rect x="1211" y="447" width="5" height="10" fill="#089981"/>
<rect x="1219" y="446" width="1" height="41" fill="#f23645"/>
<rect x="1217" y="447" width="5" height="24" fill="#f23645"/>
<rect x="1224" y="412" width="1" height="61" fill="#089981"/>
<rect x="1222" y="436" width="5" height="35" fill="#089981"/>
<rect x="1230" y="420" width="1" height="52" fill="#089981"/>
<rect x="1228" y="436" width="5" height="1" fill="#089981"/>
<rect x="1236" y="429" width="1" height="53" fill="#f23645"/>
<rect x="1234" y="436" width="5" height="38" fill="#f23645"/>
<rect x="1242" y="468" width="1" height="44" fill="#f23645"/>
<rect x="1240" y="473" width="5" height="35" fill="#f23645"/>
<rect x="1248" y="504" width="1" height="19" fill="#f23645"/>
<rect x="1246" y="507" width="5" height="16" fill="#f23645"/>
<rect x="1254" y="504" width="1" height="25" fill="#089981"/>
<rect x="1252" y="511" width="5" height="12" fill="#089981"/>
<rect x="1260" y="481" width="1" height="32" fill="#089981"/>
<rect x="1258" y="505" width="5" height="7" fill="#089981"/>
<rect x="1266" y="463" width="1" height="44" fill="#089981"/>
<rect x="1264" y="486" width="5" height="20" fill="#089981"/>
<rect x="1272" y="464" width="1" height="48" fill="#f23645"/>
<rect x="1270" y="486" width="5" height="11" fill="#f23645"/>
<rect x="1278" y="472" width="1" height="25" fill="#089981"/>
<rect x="1276" y="484" width="5" height="13" fill="#089981"/>
<rect x="1284" y="484" width="1" height="27" fill="#f23645"/>
<rect x="1282" y="484" width="5" height="9" fill="#f23645"/>
<rect x="1290" y="487" width="1" height="33" fill="#f23645"/>
<rect x="1288" y="492" width="5" height="6" fill="#f23645"/>
<rect x="1296" y="497" width="1" height="18" fill="#f23645"/>
<rect x="1294" y="497" width="5" height="8" fill="#f23645"/>
<rect x="1302" y="502" width="1" height="24" fill="#f23645"/>
<rect x="1300" y="504" width="5" height="17" fill="#f23645"/>
<rect x="1308" y="516" width="1" height="17" fill="#f23645"/>
<rect x="1306" y="520" width="5" height="12" fill="#f23645"/>
<rect x="1314" y="507" width="1" height="26" fill="#089981"/>
<rect x="1312" y="521" width="5" height="11" fill="#089981"/>
<rect x="1320" y="505" width="1" height="28" fill="#089981"/>
<rect x="1318" y="521" width="5" height="1" fill="#089981"/>
<rect x="1326" y="475" width="1" height="56" fill="#089981"/>
<rect x="1324" y="499" width="5" height="23" fill="#089981"/>
<rect x="1332" y="472" width="1" height="51" fill="#089981"/>
<rect x="1330" y="487" width="5" height="13" fill="#089981"/>
<rect x="1338" y="468" width="1" height="29" fill="#f23645"/>
<rect x="1336" y="487" width="5" height="6" fill="#f23645"/>
<rect x="1344" y="487" width="1" height="67" fill="#f23645"/>
<rect x="1342" y="493" width="5" height="50" fill="#f23645"/>
<rect x="1350" y="519" width="1" height="32" fill="#f23645"/>
<rect x="1348" y="542" width="5" height="7" fill="#f23645"/>
<rect x="1356" y="540" width="1" height="57" fill="#f23645"/>
<rect x="1354" y="547" width="5" height="44" fill="#f23645"/>
<rect x="1362" y="590" width="1" height="104" fill="#f23645"/>
<rect x="1360" y="590" width="5" height="93" fill="#f23645"/>
<rect x="1368" y="640" width="1" height="73" fill="#f23645"/>
<rect x="1366" y="682" width="5" height="6" fill="#f23645"/>
<rect x="1374" y="636" width="1" height="57" fill="#089981"/>
<rect x="1372" y="643" width="5" height="45" fill="#089981"/>
<rect x="1380" y="620" width="1" height="42" fill="#f23645"/>
<rect x="1378" y="643" width="5" height="4" fill="#f23645"/>
<rect x="1386" y="620" width="1" height="39" fill="#089981"/>
<rect x="1384" y="639" width="5" height="8" fill="#089981"/>
<rect x="1392" y="620" width="1" height="20" fill="#089981"/>
<rect x="1390" y="626" width="5" height="14" fill="#089981"/>
<rect x="1398" y="626" width="1" height="25" fill="#f23645"/>
<rect x="1396" y="626" width="5" height="19" fill="#f23645"/>
<rect x="1404" y="643" width="1" height="34" fill="#f23645"/>
<rect x="1402" y="644" width="5" height="31" fill="#f23645"/>
<rect x="1410" y="649" width="1" height="26" fill="#089981"/>
<rect x="1408" y="673" width="5" height="2" fill="#089981"/>
<rect x="1416" y="654" width="1" height="33" fill="#f23645"/>
<rect x="1414" y="673" width="5" height="7" fill="#f23645"/>
<rect x="1422" y="653" width="1" height="27" fill="#089981"/>
<rect x="1420" y="659" width="5" height="21" fill="#089981"/>
<rect x="1428" y="654" width="1" height="36" fill="#f23645"/>
<rect x="1426" y="659" width="5" height="13" fill="#f23645"/>
<rect x="1434" y="650" width="1" height="25" fill="#089981"/>
<rect x="1432" y="662" width="5" height="10" fill="#089981"/>
<rect x="1440" y="637" width="1" height="28" fill="#089981"/>
<rect x="1438" y="648" width="5" height="15" fill="#089981"/>
<rect x="1446" y="629" width="1" height="24" fill="#089981"/>
<rect x="1444" y="629" width="5" height="20" fill="#089981"/>
<rect x="1452" y="628" width="1" height="9" fill="#f23645"/>
<rect x="1450" y="629" width="5" height="7" fill="#f23645"/>
<rect x="1458" y="632" width="1" height="24" fill="#f23645"/>
<rect x="1456" y="635" width="5" height="18" fill="#f23645"/>
<rect x="1464" y="649" width="1" height="21" fill="#f23645"/>
<rect x="1462" y="652" width="5" height="10" fill="#f23645"/>
<rect x="1470" y="625" width="1" height="45" fill="#089981"/>
<rect x="1468" y="629" width="5" height="33" fill="#089981"/>
<rect x="1476" y="608" width="1" height="24" fill="#089981"/>
<rect x="1474" y="622" width="5" height="8" fill="#089981"/>
<rect x="1482" y="587" width="1" height="43" fill="#089981"/>
<rect x="1480" y="610" width="5" height="13" fill="#089981"/>
<rect x="1488" y="563" width="1" height="48" fill="#089981"/>
<rect x="1486" y="585" width="5" height="26" fill="#089981"/>
<rect x="1494" y="565" width="1" height="23" fill="#089981"/>
<rect x="1492" y="579" width="5" height="7" fill="#089981"/>
<rect x="1500" y="571" width="1" height="52" fill="#f23645"/>
<rect x="1498" y="579" width="5" height="24" fill="#f23645"/>
<rect x="1506" y="578" width="1" height="57" fill="#089981"/>
<rect x="1504" y="591" width="5" height="12" fill="#089981"/>
<rect x="1512" y="587" width="1" height="29" fill="#f23645"/>
<rect x="1510" y="591" width="5" height="18" fill="#f23645"/>
<rect x="1518" y="591" width="1" height="111" fill="#f23645"/>
<rect x="1516" y="608" width="5" height="60" fill="#f23645"/>
<rect x="1524" y="645" width="1" height="23" fill="#089981"/>
<rect x="1522" y="653" width="5" height="15" fill="#089981"/>
<line x1="13.0" y1="653.5" x2="1725.0" y2="653.5" stroke="#089981" stroke-width="1" stroke-dasharray="1 2"/>
</g>
<text x="1735.4" y="136.0" font-size="14.8" fill="#bcbcbc" textLength="53" lengthAdjust="spacingAndGlyphs">1.35600</text>
<text x="1735.4" y="194.0" font-size="14.8" fill="#bcbcbc" textLength="53" lengthAdjust="spacingAndGlyphs">1.35400</text>
<text x="1735.4" y="252.0" font-size="14.8" fill="#bcbcbc" textLength="53" lengthAdjust="spacingAndGlyphs">1.35200</text>
<text x="1735.4" y="311.0" font-size="14.8" fill="#bcbcbc" textLength="53" lengthAdjust="spacingAndGlyphs">1.35000</text>
<text x="1735.4" y="370.0" font-size="14.8" fill="#bcbcbc" textLength="53" lengthAdjust="spacingAndGlyphs">1.34800</text>
<text x="1735.4" y="430.0" font-size="14.8" fill="#bcbcbc" textLength="53" lengthAdjust="spacingAndGlyphs">1.34600</text>
<text x="1735.4" y="488.6" font-size="14.8" fill="#bcbcbc" textLength="53" lengthAdjust="spacingAndGlyphs">1.34400</text>
<text x="1735.4" y="533.0" font-size="14.8" fill="#bcbcbc" textLength="53" lengthAdjust="spacingAndGlyphs">1.34250</text>
<text x="1735.4" y="578.2" font-size="14.8" fill="#bcbcbc" textLength="53" lengthAdjust="spacingAndGlyphs">1.34100</text>
<text x="1735.4" y="621.8" font-size="14.8" fill="#bcbcbc" textLength="53" lengthAdjust="spacingAndGlyphs">1.33950</text>
<text x="1735.4" y="707.7" font-size="14.8" fill="#bcbcbc" textLength="53" lengthAdjust="spacingAndGlyphs">1.33660</text>
<text x="1735.4" y="749.6" font-size="14.8" fill="#bcbcbc" textLength="53" lengthAdjust="spacingAndGlyphs">1.33520</text>
<g clip-path="url(#topclip)"><text x="1735.4" y="77.1" font-size="14.8" fill="#bcbcbc" textLength="53" lengthAdjust="spacingAndGlyphs">1.35800</text></g>
<path d="M1725 643H1793a2 2 0 0 1 2 2V680a2 2 0 0 1 -2 2H1725Z" fill="#089981"/>
<text x="1736" y="658.9" font-size="14.8" fill="#fff" stroke="#fff" stroke-width="0.35" textLength="53" lengthAdjust="spacingAndGlyphs">1.33826</text>
<text x="1736" y="676.9" font-size="14.8" fill="#c9ebe5" textLength="36.8" lengthAdjust="spacingAndGlyphs">53:48</text>
<text x="82.4" y="795.8" text-anchor="middle" font-size="14.5" font-weight="bold" fill="#d2d2d2">3</text>
<text x="226.0" y="795.8" text-anchor="middle" font-size="14.5" font-weight="bold" fill="#d2d2d2">6</text>
<text x="369.6" y="795.8" text-anchor="middle" font-size="14.5" font-weight="bold" fill="#d2d2d2">7</text>
<text x="513.2" y="795.8" text-anchor="middle" font-size="14.5" font-weight="bold" fill="#d2d2d2">8</text>
<text x="656.8" y="795.8" text-anchor="middle" font-size="14.5" font-weight="bold" fill="#d2d2d2">9</text>
<text x="800.4" y="795.8" text-anchor="middle" font-size="14.5" font-weight="bold" fill="#d2d2d2">10</text>
<text x="944.0" y="795.8" text-anchor="middle" font-size="14.5" font-weight="bold" fill="#d2d2d2">13</text>
<text x="1087.5" y="795.8" text-anchor="middle" font-size="14.5" font-weight="bold" fill="#d2d2d2">14</text>
<text x="1231.1" y="795.8" text-anchor="middle" font-size="14.5" font-weight="bold" fill="#d2d2d2">15</text>
<text x="1374.7" y="795.8" text-anchor="middle" font-size="14.5" font-weight="bold" fill="#d2d2d2">16</text>
<text x="1518.3" y="795.8" text-anchor="middle" font-size="14.5" font-weight="bold" fill="#d2d2d2">17</text>
<text x="1661.9" y="795.8" text-anchor="middle" font-size="14.5" font-weight="bold" fill="#d2d2d2">20</text>
<text y="24.7" font-size="14.7" fill="#dedede" stroke="#dedede" stroke-width="0.3"><tspan x="13.7" textLength="20.2" lengthAdjust="spacingAndGlyphs">1月</tspan> <tspan x="41.0" textLength="18.9" lengthAdjust="spacingAndGlyphs">17,</tspan> <tspan x="66.6" textLength="30.1" lengthAdjust="spacingAndGlyphs">2026</tspan> <tspan x="102.2" textLength="36.4" lengthAdjust="spacingAndGlyphs">01:06</tspan> <tspan x="143.9" textLength="57.8" lengthAdjust="spacingAndGlyphs">UTC+9、</tspan> <tspan x="201.8" textLength="67.6" lengthAdjust="spacingAndGlyphs">shuldflake</tspan><tspan x="271.0" textLength="14.0" lengthAdjust="spacingAndGlyphs">が</tspan><tspan x="285.9" textLength="112.1" lengthAdjust="spacingAndGlyphs">TradingView.com</tspan><tspan x="399.7" textLength="43.0" lengthAdjust="spacingAndGlyphs">で作成</tspan></text>
<text y="58.6" font-size="14.5" fill="#c6c6c6" stroke="#c6c6c6" stroke-width="0.2"><tspan x="23.6" textLength="103.0" lengthAdjust="spacingAndGlyphs">ポンド／米ドル</tspan> <tspan x="132.9" textLength="3.9" lengthAdjust="spacingAndGlyphs">·</tspan> <tspan x="143.9" textLength="35.5" lengthAdjust="spacingAndGlyphs">1時間</tspan> <tspan x="185.8" textLength="3.9" lengthAdjust="spacingAndGlyphs">·</tspan> <tspan x="195.6" textLength="35.1" lengthAdjust="spacingAndGlyphs">FXCM</tspan></text>
<rect x="1728.5" y="38.5" width="69" height="33" rx="5" fill="#121212" stroke="#3a3a3a" stroke-width="1"/>
<text x="1740" y="59.7" font-size="14.6" fill="#e0e0e0" stroke="#e0e0e0" stroke-width="0.4" textLength="26.5" lengthAdjust="spacingAndGlyphs">USD</text>
<g fill="#dadada">
<path d="M15.2 835.5H30.6V854.4H22.7V843.5H15.2Z"/>
<circle cx="36.6" cy="838.6" r="3.4"/>
<path d="M43.2 835.5H53.2L45.4 854.4H35.6Z"/>
<text x="61.5" y="854.4" font-size="26.4" font-weight="bold" textLength="151.5" lengthAdjust="spacingAndGlyphs">TradingView</text>
</g>
</svg>
</body></html>
